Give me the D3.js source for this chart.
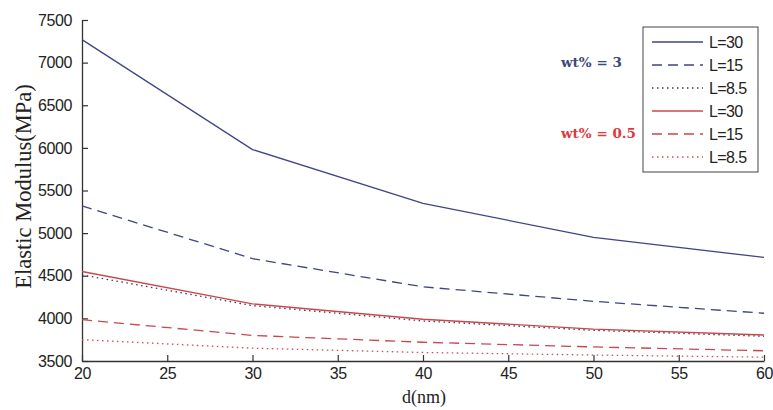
<!DOCTYPE html>
<html>
<head>
<meta charset="utf-8">
<script src="https://cdn.jsdelivr.net/npm/d3@7"></script>
<style>
  body { margin: 0; background: #fff; }
  svg text { font-family: "Liberation Sans", Arial, sans-serif; }
</style>
</head>
<body>
<div id="chart"></div>
<script>
// data
var dValues = [20, 30, 40, 50, 60];
var xTicks = [20, 25, 30, 35, 40, 45, 50, 55, 60];
var yTicks = [3500, 4000, 4500, 5000, 5500, 6000, 6500, 7000, 7500];

var wt3_L30 = [7270, 5980, 5350, 4950, 4715];
var wt3_L15 = [5320, 4700, 4370, 4200, 4060];
var wt3_L85 = [4510, 4150, 3970, 3860, 3790];
var wt05_L30 = [4550, 4170, 3990, 3875, 3805];
var wt05_L15 = [3985, 3800, 3720, 3665, 3620];
var wt05_L85 = [3750, 3650, 3600, 3570, 3545];

var legendLabels = ["L=30", "L=15", "L=8.5", "L=30", "L=15", "L=8.5"];

var svgWidth = 773;
var svgHeight = 410;

var margin = {top: 20, right: 9, bottom: 49, left: 82};
var width = svgWidth - margin.left - margin.right;
var height = svgHeight - margin.top - margin.bottom;

var blue = "#3f4585";
var red = "#c8484c";

var series = [
  {vals: wt3_L30, color: blue, dash: null},
  {vals: wt3_L15, color: blue, dash: "10,6"},
  {vals: wt3_L85, color: "#4a3550", dash: "1.5,3.5"},
  {vals: wt05_L30, color: red, dash: null},
  {vals: wt05_L15, color: red, dash: "10,6"},
  {vals: wt05_L85, color: "#c9505a", dash: "1.5,3.5"}
];

var svg = d3.select("#chart")
  .append("svg")
  .attr("width", svgWidth)
  .attr("height", svgHeight);

var chartGroup = svg.append("g")
  .attr("transform", `translate(${margin.left},${margin.top})`);

var xScale = d3.scaleLinear().domain([20, 60]).range([0, width]);
var yScale = d3.scaleLinear().domain([3500, 7500]).range([height, 0]);

// axes, ticks pointing inward like matlab
var bottomAxis = d3.axisBottom(xScale).tickValues(xTicks).tickSize(-6).tickPadding(7)
  .tickSizeOuter(0).tickFormat(d3.format("d"));
var leftAxis = d3.axisLeft(yScale).tickValues(yTicks).tickSize(-6).tickPadding(10)
  .tickSizeOuter(0).tickFormat(d3.format("d"));

var xAxis = chartGroup.append("g")
  .attr("transform", `translate(0, ${height})`)
  .call(bottomAxis);

var yAxis = chartGroup.append("g")
  .call(leftAxis);

[xAxis, yAxis].forEach(function(a) {
  a.select(".domain").attr("stroke", "#333").attr("stroke-width", 1.3);
  a.selectAll(".tick line").attr("stroke", "#333").attr("stroke-width", 1.2);
  a.selectAll(".tick text")
    .attr("fill", "#222")
    .style("font-size", "16px")
    .style("letter-spacing", "-0.4px");
});

// lines
var line = d3.line()
  .x((d, i) => xScale(dValues[i]))
  .y(d => yScale(d));

series.forEach(function(s) {
  chartGroup.append("path")
    .datum(s.vals)
    .attr("fill", "none")
    .attr("stroke", s.color)
    .attr("stroke-width", 1.3)
    .attr("stroke-dasharray", s.dash)
    .attr("d", line);
});

// axis labels
svg.append("text")
  .attr("x", margin.left + width / 2 + 1)
  .attr("y", 403)
  .attr("text-anchor", "middle")
  .style("font-family", "'Liberation Serif', 'Times New Roman', serif")
  .style("font-size", "18px")
  .attr("fill", "#222")
  .text("d(nm)");

svg.append("text")
  .attr("transform", "rotate(-90)")
  .attr("x", -(margin.top + height / 2) + 4)
  .attr("y", 31)
  .attr("text-anchor", "middle")
  .style("font-family", "'Liberation Serif', 'Times New Roman', serif")
  .style("font-size", "22.5px")
  .attr("fill", "#222")
  .text("Elastic Modulus(MPa)");

// legend
var legend = svg.append("g");
legend.append("rect")
  .attr("x", 643).attr("y", 27)
  .attr("width", 115).attr("height", 145)
  .attr("fill", "#fff")
  .attr("stroke", "#444")
  .attr("stroke-width", 1);

series.forEach(function(s, i) {
  var ly = 42 + i * 23;
  legend.append("line")
    .attr("x1", 652).attr("x2", 703)
    .attr("y1", ly).attr("y2", ly)
    .attr("stroke", s.color)
    .attr("stroke-width", 1.3)
    .attr("stroke-dasharray", s.dash);
  legend.append("text")
    .attr("x", 709).attr("y", ly)
    .attr("dy", "0.36em")
    .style("font-size", "16px")
    .style("letter-spacing", "-0.6px")
    .attr("fill", "#222")
    .text(legendLabels[i]);
});

// group notes
svg.append("text")
  .attr("x", 561).attr("y", 67)
  .style("font-family", "'DejaVu Serif', 'Liberation Serif', serif")
  .style("font-size", "13.5px")
  .style("font-weight", "bold")
  .attr("fill", "#3b4a78")
  .text("wt% = 3");

svg.append("text")
  .attr("x", 561).attr("y", 138)
  .style("font-family", "'DejaVu Serif', 'Liberation Serif', serif")
  .style("font-size", "13.5px")
  .style("font-weight", "bold")
  .attr("fill", "#e0383c")
  .text("wt% = 0.5");
</script>
</body>
</html>
